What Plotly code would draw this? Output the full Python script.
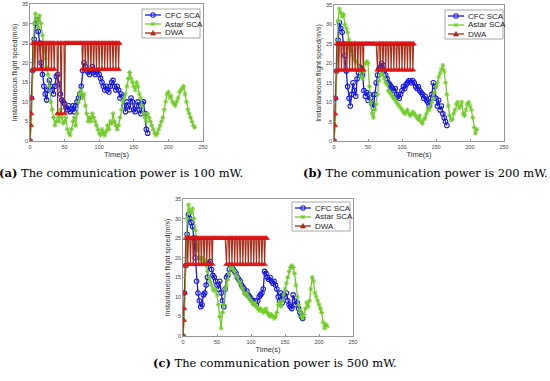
import plotly.graph_objects as go

W, H = 550, 381

# ---------------- data ----------------
SERIES_NAMES = ["CFC SCA", "Astar SCA", "DWA"]
TIME_TICKS = [0, 50, 100, 150, 200, 250]
SPEED_TICKS = [0, 5, 10, 15, 20, 25, 30, 35]
X_TITLE = "Time(s)"
Y_TITLE = "Instantaneous flight speed(m/s)"
CAPTION_LABELS = ["(a)", "(b)", "(c)"]
CAPTION_TEXTS = ["The communication power is 100 mW.",
                 "The communication power is 200 mW.",
                 "The communication power is 500 mW."]

# ----- panel (a): 100 mW -----
A_CFC_T = [0, 2, 4, 6, 8, 10, 12, 14, 16, 18,
           20, 22, 24, 26, 28, 30, 32, 34, 36, 38,
           40, 42, 44, 46, 48, 50, 52, 54, 56, 58,
           60, 62, 64, 66, 68, 70, 72, 74, 76, 78,
           80, 82, 84, 86, 88, 90, 92, 94, 96, 98,
           100, 102, 104, 106, 108, 110, 112, 114, 116, 118,
           120, 122, 124, 126, 128, 130, 132, 134, 136, 138,
           140, 142, 144, 146, 148, 150, 152, 154, 156, 158,
           160, 162, 164, 166, 168, 170]
A_CFC_V = [0, 11, 18, 26, 30, 31, 28, 25, 20, 17,
           14, 12, 10.5, 13, 15.5, 14, 13, 12, 14, 16.5,
           17, 14.5, 12, 10.5, 10, 9.5, 8.5, 8, 9, 7.5,
           8, 9, 7.5, 9, 10, 11, 12, 14, 18, 20,
           19, 18, 17.5, 17, 18, 19, 17.5, 17, 17.5, 18,
           17, 16, 15, 14, 13, 14, 13, 12.5, 14, 15,
           15.5, 14, 13, 14, 13, 11, 12, 11.5, 9, 7.5,
           10, 9, 8, 11, 10, 8, 7.5, 9, 10, 8,
           7, 9.5, 10, 7, 3, 2]

A_AST_T = [0, 2, 4, 6, 8, 10, 12, 14, 16, 18,
           20, 22, 24, 26, 28, 30, 32, 34, 36, 38,
           40, 42, 44, 46, 48, 50, 52, 54, 56, 58,
           60, 62, 64, 66, 68, 70, 72, 74, 76, 78,
           80, 82, 84, 86, 88, 90, 92, 94, 96, 98,
           100, 102, 104, 106, 108, 110, 112, 114, 116, 118,
           120, 122, 124, 126, 128, 130, 132, 134, 136, 138,
           140, 142, 144, 146, 148, 150, 152, 154, 156, 158,
           160, 162, 164, 166, 168, 170, 172, 174, 176, 178,
           180, 182, 184, 186, 188, 190, 192, 194, 196, 198,
           200, 202, 204, 206, 208, 210, 212, 214, 216, 218,
           220, 222, 224, 226, 228, 230, 232, 234, 236, 238]
A_AST_V = [0, 4, 18, 30, 32.5, 31, 29, 32, 30, 27,
           24, 21, 19, 17, 14, 10, 8, 6, 4, 5,
           7, 5, 8, 6, 4.5, 5, 6, 3, 2, 1.5,
           3, 5, 6, 4, 7, 10, 12, 13, 11, 12,
           9, 7, 5, 6, 5, 7, 6, 5, 4, 3,
           2, 1.5, 3, 2, 1.5, 2.5, 4, 3, 5, 4.5,
           7, 5, 4, 3, 4, 6, 8, 10, 11, 12,
           14, 16, 17.5, 16, 15, 14, 13, 15, 14, 12,
           11, 9, 7, 6, 5, 7, 6, 5, 4, 3,
           2, 1.5, 2, 3, 4, 5, 6, 8, 10, 12,
           12.5, 11, 11.5, 10, 9.5, 9, 10, 11, 12.5, 13,
           13.5, 14, 12, 10, 8, 7, 6, 5, 4, 3.5]

A_DWA_T = [0, 0.8, 1.6, 2.4, 3.2, 4,
           6, 7, 8, 10, 11, 12, 14, 15, 16, 18, 19, 20,
           22, 23, 24, 26, 27, 28, 30, 31, 32, 34, 35, 36,
           39, 40, 41, 44, 45, 46, 49, 50, 51,
           53, 55, 57, 59, 61, 63, 65, 67, 69, 71, 73, 75,
           76, 77, 79, 80, 81, 83, 84, 85, 87, 88, 89, 91, 92, 93,
           95, 96, 97, 99, 100, 101, 103, 104, 105, 107, 108, 109,
           111, 112, 113, 115, 116, 117, 119, 120, 121, 123, 124, 125,
           127, 128, 129]
A_DWA_V = [0, 4, 7, 11, 18, 25,
           25, 18.3, 25, 25, 18.3, 25, 25, 18.3, 25, 25, 18.3, 25,
           25, 18.3, 25, 25, 18.3, 25, 25, 18.3, 25, 25, 18.3, 25,
           25, 7, 25, 25, 7, 25, 25, 7, 25,
           25, 25, 25, 25, 25, 25, 25, 25, 25, 25, 25, 25,
           18.3, 25, 25, 18.3, 25, 25, 18.3, 25, 25, 18.3, 25, 25, 18.3, 25,
           25, 18.3, 25, 25, 18.3, 25, 25, 18.3, 25, 25, 18.3, 25,
           25, 18.3, 25, 25, 18.3, 25, 25, 18.3, 25, 25, 18.3, 25,
           25, 18.3, 25]

# ----- panel (b): 200 mW -----
B_CFC_T = [0, 2, 4, 6, 8, 10, 12, 14, 16, 18,
           20, 22, 24, 26, 28, 30, 32, 34, 36, 38,
           40, 42, 44, 46, 48, 50, 52, 54, 56, 58,
           60, 62, 64, 66, 68, 70, 72, 74, 76, 78,
           80, 82, 84, 86, 88, 90, 92, 94, 96, 98,
           100, 102, 104, 106, 108, 110, 112, 114, 116, 118,
           120, 122, 124, 126, 128, 130, 132, 134, 136, 138,
           140, 142, 144, 146, 148, 150, 152, 154, 156, 158,
           160, 162, 164, 166]
B_CFC_V = [0, 11, 18, 26, 30.5, 29, 28, 25, 22, 18,
           14, 11, 9, 12, 15, 13, 11.5, 16, 17.5, 19,
           18.5, 17, 13, 11.5, 12.5, 10.5, 12, 11, 9.5, 8.5,
           12, 15, 17, 18.5, 19, 20, 19.5, 18, 17, 16,
           15, 14.5, 14, 13.5, 13, 13.5, 12, 11.5, 11, 12,
           13, 14, 13.5, 14.5, 15, 15.5, 15.5, 15, 15.5, 15,
           14, 13.5, 14, 13, 12.5, 12, 11, 11.5, 10.5, 10,
           9, 11, 12, 15, 14, 11, 9, 10.5, 8, 9,
           7, 6, 5, 4]

B_AST_T = [0, 2, 4, 6, 8, 10, 12, 14, 16, 18,
           20, 22, 24, 26, 28, 30, 32, 34, 36, 38,
           40, 42, 44, 46, 48, 50, 52, 54, 56, 58,
           60, 62, 64, 66, 68, 70, 72, 74, 76, 78,
           80, 82, 84, 86, 88, 90, 92, 94, 96, 98,
           100, 102, 104, 106, 108, 110, 112, 114, 116, 118,
           120, 122, 124, 126, 128, 130, 132, 134, 136, 138,
           140, 142, 144, 146, 148, 150, 152, 154, 156, 158,
           160, 162, 164, 166, 168, 170, 172, 174, 176, 178,
           180, 182, 184, 186, 188, 190, 192, 194, 196, 198,
           200, 202, 204, 206, 208, 210]
B_AST_V = [0, 4, 18, 31, 34, 33, 32, 32.5, 30, 29,
           28, 26, 24, 23, 22, 21, 20.5, 20, 19, 18,
           16.5, 16, 18, 20, 20.5, 20, 14, 10, 7, 6,
           8, 9.5, 12, 15.5, 17, 18, 17, 16, 15, 14.5,
           13, 12.5, 12, 11.5, 11, 10.5, 10, 9.5, 9, 8.5,
           8, 7.5, 7, 7.5, 8, 7, 6.5, 7, 7.5, 7,
           6.5, 6, 5.5, 6.5, 5, 4.5, 5.5, 6, 7, 8,
           8, 9, 10, 11, 12.5, 14, 15, 16.5, 17.5, 18.5,
           19.5, 18, 15, 12, 9, 6.5, 5.5, 5.5, 7, 8,
           9.5, 10, 8.5, 9, 10, 7, 6.5, 8, 9.5, 10,
           9, 8, 6, 3.5, 2, 3]

B_DWA_T = [0, 0.8, 1.6, 2.4, 3.2, 4,
           6, 7, 8, 10, 11, 12, 14, 15, 16, 18, 19, 20,
           22, 23, 24, 26, 27, 28, 30, 31, 32, 34, 35, 36,
           38, 39, 40, 42, 43, 44,
           46, 48, 50, 52, 54, 56, 58, 60, 62,
           64, 65, 67, 68, 69, 71, 72, 73, 75, 76, 77,
           79, 80, 81, 83, 84, 85, 87, 88, 89, 91, 92, 93,
           95, 96, 97, 99, 100, 101, 103, 104, 105, 107, 108, 109,
           111, 112, 113, 115, 116, 117]
B_DWA_V = [0, 4, 7, 11, 18, 25,
           25, 18.3, 25, 25, 18.3, 25, 25, 18.3, 25, 25, 18.3, 25,
           25, 18.3, 25, 25, 18.3, 25, 25, 18.3, 25, 25, 18.3, 25,
           25, 18.3, 25, 25, 18.3, 25,
           25, 25, 25, 25, 25, 25, 25, 25, 25,
           18.3, 25, 25, 18.3, 25, 25, 18.3, 25, 25, 18.3, 25,
           25, 18.3, 25, 25, 18.3, 25, 25, 18.3, 25, 25, 18.3, 25,
           25, 18.3, 25, 25, 18.3, 25, 25, 18.3, 25, 25, 18.3, 25,
           25, 18.3, 25, 25, 18.3, 25]

# ----- panel (c): 500 mW -----
C_CFC_T = [0, 2, 4, 6, 8, 10, 12, 14, 16, 18,
           20, 22, 24, 26, 28, 30, 32, 34, 36, 38,
           40, 42, 44, 46, 48, 50, 52, 54, 56, 58,
           60, 62, 64, 66, 68, 70, 72, 74, 76, 78,
           80, 82, 84, 86, 88, 90, 92, 94, 96, 98,
           100, 102, 104, 106, 108, 110, 112, 114, 116, 118,
           120, 122, 124, 126, 128, 130, 132, 134, 136, 138,
           140, 142, 144, 146, 148, 150, 152, 154, 156, 158,
           160, 162, 164, 166, 168, 170, 172, 174, 176]
C_CFC_V = [0, 11, 18, 26, 31, 30, 29, 28, 25, 20,
           14, 11, 9, 7.5, 8, 10.5, 11, 13, 15, 18.5,
           19, 17, 15.5, 15, 14, 13, 12, 14, 11, 9,
           7.5, 12, 15, 15.5, 17, 18, 17.5, 17, 16.5, 16,
           15, 14.5, 14, 13, 12.5, 12, 11, 11.5, 10.5, 10,
           9.5, 9, 8.5, 9, 8, 9, 10, 10.5, 11, 12,
           16.5, 16, 15, 14.5, 15, 14, 13.5, 14, 13, 12,
           10, 9, 11, 8.5, 10.5, 10, 11, 9, 8, 7.5,
           7, 10.5, 9, 8, 8.5, 7, 6, 5, 4.5]

C_AST_T = [0, 2, 4, 6, 8, 10, 12, 14, 16, 18,
           20, 22, 24, 26, 28, 30, 32, 34, 36, 38,
           40, 42, 44, 46, 48, 50, 52, 54, 56, 58,
           60, 62, 64, 66, 68, 70, 72, 74, 76, 78,
           80, 82, 84, 86, 88, 90, 92, 94, 96, 98,
           100, 102, 104, 106, 108, 110, 112, 114, 116, 118,
           120, 122, 124, 126, 128, 130, 132, 134, 136, 138,
           140, 142, 144, 146, 148, 150, 152, 154, 156, 158,
           160, 162, 164, 166, 168, 170, 172, 174, 176, 178,
           180, 182, 184, 186, 188, 190, 192, 194, 196, 198,
           200, 202, 204, 206, 208, 210, 212]
C_AST_V = [0, 4, 18, 30, 33.5, 32, 31.5, 32.5, 30, 27,
           25, 22, 20, 19.5, 20, 19, 19.5, 18, 16.5, 15,
           14, 13, 12, 11.5, 12, 10.5, 8, 5, 2, 6,
           8, 12, 13, 14.5, 16, 17.5, 18, 17, 16.5, 15.5,
           15, 14, 13.5, 12.5, 12, 11, 10.5, 11, 10, 9.5,
           9, 8.5, 8, 8.5, 7.5, 7, 6.5, 7, 6.5, 6,
           6.5, 7, 6, 5.5, 5, 5.5, 5, 4.5, 5, 6,
           8, 8.5, 7.5, 9, 10.5, 12, 13.5, 15, 16.5, 17.5,
           18, 17.5, 16, 13, 10, 8, 6.5, 5, 4.5, 5.5,
           7, 8.5, 7.5, 9, 12, 15, 14, 11, 10, 9,
           8, 7, 6, 3.5, 2, 3, 2.5]

C_DWA_T = [0, 0.8, 1.6, 2.4, 3.2, 4,
           6, 7, 8, 10, 11, 12, 14, 15, 16, 18, 19, 20,
           22, 23, 24, 26, 27, 28, 30, 31, 32, 34, 35, 36,
           38, 39, 40, 42, 43, 44,
           46, 48, 50, 52, 54, 56, 58, 60, 62,
           64, 65, 67, 68, 69, 71, 72, 73, 75, 76, 77,
           79, 80, 81, 83, 84, 85, 87, 88, 89, 91, 92, 93,
           95, 96, 97, 99, 100, 101, 103, 104, 105, 107, 108, 109,
           111, 112, 113, 115, 116, 117, 119, 120, 121, 123]
C_DWA_V = [0, 4, 7, 11, 18, 25,
           25, 18.3, 25, 25, 18.3, 25, 25, 18.3, 25, 25, 18.3, 25,
           25, 18.3, 25, 25, 18.3, 25, 25, 18.3, 25, 25, 18.3, 25,
           25, 18.3, 25, 25, 18.3, 25,
           25, 25, 25, 25, 25, 25, 25, 25, 25,
           18.3, 25, 25, 18.3, 25, 25, 18.3, 25, 25, 18.3, 25,
           25, 18.3, 25, 25, 18.3, 25, 25, 18.3, 25, 25, 18.3, 25,
           25, 18.3, 25, 25, 18.3, 25, 25, 18.3, 25, 25, 18.3, 25,
           25, 18.3, 25, 25, 18.3, 25, 25, 18.3, 25, 25]

# ---------------- styles ----------------
BLUE = "rgb(25,25,225)"
GREEN = "rgb(115,205,40)"
DWA_LINE = "rgb(165,45,25)"
DWA_FILL = "rgb(240,20,20)"
AXIS_COL = "rgb(150,150,150)"
SANS = "Liberation Sans, Arial, sans-serif"
SERIF = "DejaVu Serif, serif"

# panel frames in pixels: (left, right, top, bottom)
FRAMES = [(30, 203, 4, 141), (334, 504, 5, 141), (183, 353, 199, 336)]
CAPTION_POS = [(121, 173), (425, 173), (275, 363)]   # centre (x, y) px
LEGEND_POS = [(200, 9), (503, 10), (350, 202)]        # (right, top) px

panels = [
    [(A_CFC_T, A_CFC_V), (A_AST_T, A_AST_V), (A_DWA_T, A_DWA_V)],
    [(B_CFC_T, B_CFC_V), (B_AST_T, B_AST_V), (B_DWA_T, B_DWA_V)],
    [(C_CFC_T, C_CFC_V), (C_AST_T, C_AST_V), (C_DWA_T, C_DWA_V)],
]


def px(x):
    return x / W


def py(y):
    return 1 - y / H


fig = go.Figure()

for i, series in enumerate(panels):
    sfx = "" if i == 0 else str(i + 1)
    xa, ya = "x" + sfx, "y" + sfx
    (t1, v1), (t2, v2), (t3, v3) = series
    fig.add_trace(go.Scatter(
        x=t1, y=v1, mode="lines+markers", name=SERIES_NAMES[0], xaxis=xa, yaxis=ya,
        line=dict(color=BLUE, width=1.3),
        marker=dict(symbol="circle-open", size=4.5, color=BLUE, line=dict(width=1.1, color=BLUE)),
        showlegend=False))
    fig.add_trace(go.Scatter(
        x=t2, y=v2, mode="lines+markers", name=SERIES_NAMES[1], xaxis=xa, yaxis=ya,
        line=dict(color=GREEN, width=1.3),
        marker=dict(symbol="asterisk-open", size=4, color=GREEN, line=dict(width=1, color=GREEN)),
        showlegend=False))
    fig.add_trace(go.Scatter(
        x=t3, y=v3, mode="lines+markers", name=SERIES_NAMES[2], xaxis=xa, yaxis=ya,
        line=dict(color=DWA_LINE, width=1.1),
        marker=dict(symbol="triangle-up", size=5, color=DWA_FILL, line=dict(width=0.5, color="rgb(190,20,20)")),
        showlegend=False))

layout = dict(
    width=W, height=H,
    margin=dict(l=0, r=0, t=0, b=0),
    paper_bgcolor="white", plot_bgcolor="white",
    showlegend=False,
)

axis_common = dict(
    showgrid=False, zeroline=False, showline=True, mirror=True,
    linecolor=AXIS_COL, linewidth=0.8,
    ticks="inside", ticklen=2, tickcolor=AXIS_COL, tickwidth=0.8,
    tickfont=dict(family=SANS, size=5.5, color="#444"),
    automargin=False,
)

shapes = []
annotations = []
for i, (l, r, t, b) in enumerate(FRAMES):
    sfx = "" if i == 0 else str(i + 1)
    layout["xaxis" + sfx] = dict(
        axis_common, domain=[px(l), px(r)], range=[0, 250], tickvals=TIME_TICKS,
        anchor="y" + sfx,
        title=dict(text=X_TITLE, font=dict(family=SANS, size=7.5, color="#333"), standoff=1))
    layout["yaxis" + sfx] = dict(
        axis_common, domain=[py(b), py(t)], range=[0, 35], tickvals=SPEED_TICKS,
        anchor="x" + sfx,
        title=dict(text=Y_TITLE, font=dict(family=SANS, size=7, color="#333"), standoff=3))

    # caption
    cx, cy = CAPTION_POS[i]
    annotations.append(dict(
        x=px(cx), y=py(cy), xref="paper", yref="paper", xanchor="center", yanchor="middle",
        showarrow=False,
        text="<b>%s</b> %s" % (CAPTION_LABELS[i], CAPTION_TEXTS[i]),
        font=dict(family=SERIF, size=11.5, color="black")))

    # legend box
    lr, lt = LEGEND_POS[i]
    ll = lr - 58
    lb = lt + 29
    shapes.append(dict(type="rect", xref="paper", yref="paper",
                       x0=px(ll), x1=px(lr), y0=py(lb), y1=py(lt),
                       line=dict(color=AXIS_COL, width=0.8), fillcolor="white", layer="above"))
    cols = [BLUE, GREEN, DWA_LINE]
    for k in range(3):
        ry = lt + 6 + 9 * k
        shapes.append(dict(type="line", xref="paper", yref="paper",
                           x0=px(ll + 3), x1=px(ll + 19), y0=py(ry), y1=py(ry),
                           line=dict(color=cols[k], width=1.3), layer="above"))
        mx = ll + 11
        if k == 0:
            rr = 2.2
            shapes.append(dict(type="circle", xref="paper", yref="paper",
                               x0=px(mx - rr), x1=px(mx + rr), y0=py(ry + rr), y1=py(ry - rr),
                               line=dict(color=BLUE, width=1.1), layer="above"))
        elif k == 1:
            rr = 2.2
            d = rr * 0.7
            path = ("M %f,%f L %f,%f M %f,%f L %f,%f M %f,%f L %f,%f M %f,%f L %f,%f" % (
                px(mx - rr), py(ry), px(mx + rr), py(ry),
                px(mx), py(ry - rr), px(mx), py(ry + rr),
                px(mx - d), py(ry - d), px(mx + d), py(ry + d),
                px(mx - d), py(ry + d), px(mx + d), py(ry - d)))
            shapes.append(dict(type="path", xref="paper", yref="paper", path=path,
                               line=dict(color=GREEN, width=1), layer="above"))
        else:
            rr = 2.6
            path = "M %f,%f L %f,%f L %f,%f Z" % (
                px(mx), py(ry - rr), px(mx + rr), py(ry + rr * 0.8), px(mx - rr), py(ry + rr * 0.8))
            shapes.append(dict(type="path", xref="paper", yref="paper", path=path,
                               line=dict(color=DWA_LINE, width=0.6), fillcolor=DWA_LINE, layer="above"))
        annotations.append(dict(
            x=px(ll + 21), y=py(ry), xref="paper", yref="paper", xanchor="left", yanchor="middle",
            showarrow=False, text=SERIES_NAMES[k],
            font=dict(family=SANS, size=8, color="#222")))

layout["shapes"] = shapes
layout["annotations"] = annotations
fig.update_layout(**layout)

# remove the browser's default 8px body margin so the figure sits at (0, 0)
fig.write_html("out.html",
               config={"displayModeBar": False},
               post_script="document.body.style.margin='0';document.body.style.overflow='hidden';")
